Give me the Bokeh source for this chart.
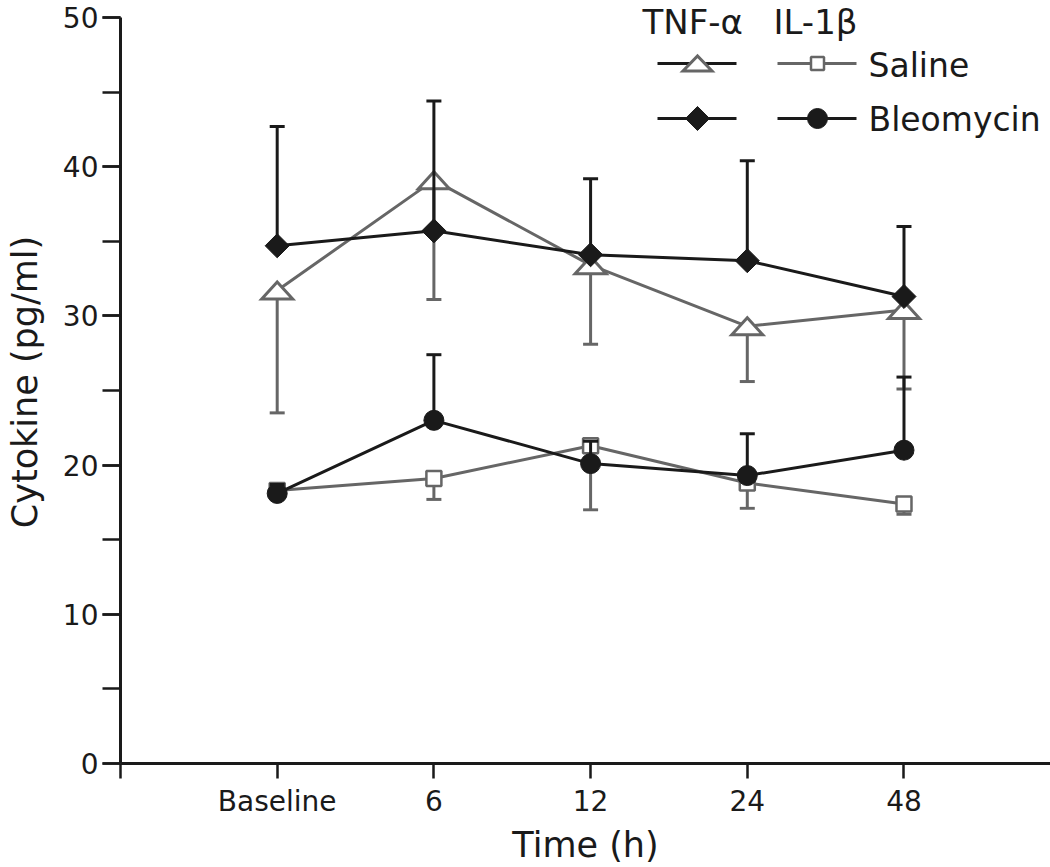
import math
from bokeh.plotting import figure
from bokeh.models import FixedTicker, SingleIntervalTicker, Range1d, Label
from bokeh.embed import file_html
from bokeh.resources import INLINE

# ---------------- data ----------------
categories = ["Baseline", "6", "12", "24", "48"]
positions = [1, 2, 3, 4, 5]

tnf_saline = [31.7, 39.1, 33.4, 29.3, 30.4]
tnf_saline_lower = [23.5, 31.1, 28.1, 25.6, 25.1]

tnf_bleo = [34.7, 35.7, 34.1, 33.7, 31.3]
tnf_bleo_upper = [42.7, 44.4, 39.2, 40.4, 36.0]

il_saline = [18.3, 19.1, 21.3, 18.8, 17.4]
il_saline_lower = [17.9, 17.7, 17.0, 17.1, 16.7]

il_bleo = [18.1, 23.0, 20.1, 19.3, 21.0]
il_bleo_upper = [18.7, 27.4, 21.6, 22.1, 25.9]

y_ticks_interval = 10
Y_MAX = 50

# ---------------- layout / style ----------------
W, H = 1050, 867
BL, BR, BT, BB = 120, 0, 0, 104
TOP_GAP = 17           # px between frame top and the y = 50 line
X_END = 5.935
frame_w = W - BL - BR
frame_h = H - BT - BB
pxx = frame_w / X_END
pxy = (frame_h - TOP_GAP) / Y_MAX
Y_TOP = Y_MAX + TOP_GAP / pxy

BLACK = "#1a1a1a"
GRAY = "#666666"
FONT = "DejaVu Sans"


def px2x(page_x):
    return (page_x - BL) / pxx


def px2y(page_y):
    return Y_TOP - (page_y - BT) / pxy


p = figure(width=W, height=H, output_backend="svg", toolbar_location=None,
           x_range=Range1d(0, X_END), y_range=Range1d(0, Y_TOP),
           min_border_left=BL, min_border_right=BR,
           min_border_top=BT, min_border_bottom=BB)
p.outline_line_color = None
p.xgrid.visible = False
p.ygrid.visible = False
p.background_fill_color = "white"
p.border_fill_color = "white"

# x axis
xa = p.xaxis[0]
xa.ticker = FixedTicker(ticks=[0] + positions)
overrides = {0: ""}
for pos, c in zip(positions, categories):
    overrides[pos] = c
xa.major_label_overrides = overrides
xa.axis_line_width = 3
xa.axis_line_color = BLACK
xa.major_tick_line_width = 2.5
xa.major_tick_line_color = BLACK
xa.major_tick_out = 15
xa.major_tick_in = 0
xa.minor_tick_line_color = None
xa.major_label_text_font = FONT
xa.major_label_text_font_size = "28px"
xa.major_label_text_color = BLACK
xa.major_label_standoff = 6
xa.axis_label = "Time (h)"
xa.axis_label_text_font = FONT
xa.axis_label_text_font_size = "35px"
xa.axis_label_text_font_style = "normal"
xa.axis_label_text_color = BLACK
xa.axis_label_standoff = 4

# y axis
ya = p.yaxis[0]
ya.ticker = SingleIntervalTicker(interval=y_ticks_interval, num_minor_ticks=2)
ya.bounds = (0, Y_MAX)
ya.axis_line_width = 3
ya.axis_line_color = BLACK
ya.major_tick_line_width = 2.5
ya.major_tick_line_color = BLACK
ya.minor_tick_line_width = 2.5
ya.minor_tick_line_color = BLACK
ya.major_tick_out = 18
ya.major_tick_in = 0
ya.minor_tick_out = 18
ya.minor_tick_in = 0
ya.major_label_text_font = FONT
ya.major_label_text_font_size = "28px"
ya.major_label_text_color = BLACK
ya.major_label_standoff = 4
ya.axis_label = "Cytokine (pg/ml)"
ya.axis_label_text_font = FONT
ya.axis_label_text_font_size = "35px"
ya.axis_label_text_font_style = "normal"
ya.axis_label_text_color = BLACK
ya.axis_label_standoff = 15

CAP = 7.5 / pxx
LW = 3


def error_bars(vals, bounds, color):
    p.segment(x0=positions, y0=vals, x1=positions, y1=bounds,
              line_color=color, line_width=LW)
    p.segment(x0=[x - CAP for x in positions], y0=bounds,
              x1=[x + CAP for x in positions], y1=bounds,
              line_color=color, line_width=LW)


def flat_triangles(xc, yc, wpx, hpx, color):
    hw = wpx / 2 / pxx
    hh = hpx / 2 / pxy
    xs = [[x - hw, x + hw, x] for x in xc]
    ys = [[y - hh, y - hh, y + hh] for y in yc]
    p.patches(xs, ys, fill_color="white", line_color=color, line_width=3,
              line_join="miter")


# ---- saline (gray) ----
p.line(positions, tnf_saline, line_color=GRAY, line_width=LW)
p.line(positions, il_saline, line_color=GRAY, line_width=LW)
error_bars(tnf_saline, tnf_saline_lower, GRAY)
error_bars(il_saline, il_saline_lower, GRAY)
flat_triangles(positions, tnf_saline, 31, 17, GRAY)
p.scatter(positions, il_saline, marker="square", size=15, fill_color="white",
          line_color=GRAY, line_width=2.5)

# ---- bleomycin (black) ----
p.line(positions, tnf_bleo, line_color=BLACK, line_width=LW)
p.line(positions, il_bleo, line_color=BLACK, line_width=LW)
error_bars(tnf_bleo, tnf_bleo_upper, BLACK)
error_bars(il_bleo, il_bleo_upper, BLACK)
p.scatter(positions, tnf_bleo, marker="square", angle=math.pi / 4, size=17,
          fill_color=BLACK, line_color=BLACK, line_width=1)
p.scatter(positions, il_bleo, marker="circle", size=20, fill_color=BLACK,
          line_color=BLACK)

# ---------------- legend (custom layout) ----------------
LEG_TNF = (657, 736, 697)
LEG_IL = (777, 856, 817)
ROW_SAL = 63
ROW_BLEO = 118

p.segment(x0=[px2x(LEG_TNF[0])] * 2, x1=[px2x(LEG_TNF[1])] * 2,
          y0=[px2y(ROW_SAL), px2y(ROW_BLEO)], y1=[px2y(ROW_SAL), px2y(ROW_BLEO)],
          line_color=BLACK, line_width=LW)
p.segment(x0=[px2x(LEG_IL[0])], x1=[px2x(LEG_IL[1])],
          y0=[px2y(ROW_SAL)], y1=[px2y(ROW_SAL)], line_color=GRAY, line_width=LW)
p.segment(x0=[px2x(LEG_IL[0])], x1=[px2x(LEG_IL[1])],
          y0=[px2y(ROW_BLEO)], y1=[px2y(ROW_BLEO)], line_color=BLACK, line_width=LW)
flat_triangles([px2x(LEG_TNF[2])], [px2y(ROW_SAL)], 29, 15, GRAY)
p.scatter([px2x(LEG_TNF[2])], [px2y(ROW_BLEO)], marker="square", angle=math.pi / 4,
          size=17, fill_color=BLACK, line_color=BLACK, line_width=1)
p.scatter([px2x(LEG_IL[2])], [px2y(ROW_SAL)], marker="square", size=13,
          fill_color="white", line_color=GRAY, line_width=2.5)
p.scatter([px2x(LEG_IL[2])], [px2y(ROW_BLEO)], marker="circle", size=20,
          fill_color=BLACK, line_color=BLACK)

for txt, px, py, fs in [("TNF-\u03b1", 642, 21, "34px"), ("IL-1\u03b2", 773, 21, "34px"),
                        ("Saline", 868, 65, "33px"), ("Bleomycin", 868, 119, "33px")]:
    p.add_layout(Label(x=px2x(px), y=px2y(py), text=txt, text_font=FONT,
                       text_font_size=fs, text_color=BLACK,
                       text_baseline="middle", text_align="left"))

open("out.html", "w").write(file_html(p, INLINE))
